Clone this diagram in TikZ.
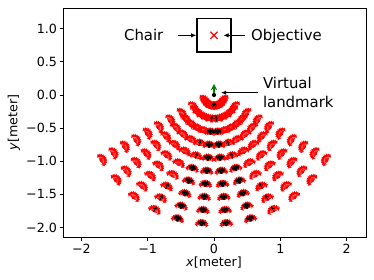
\documentclass[tikz,border=0pt]{standalone}
\usepackage{fontspec}
\setmainfont{DejaVu Sans}[ItalicFont={DejaVu Sans Oblique}]
\usetikzlibrary{arrows.meta,positioning}
\definecolor{quivgreen}{RGB}{0,128,0}

\begin{document}
\begin{tikzpicture}[x=1.6575cm,y=1.6575cm,
    axisfont/.style={font=\fontsize{9}{10.8}\selectfont},
    annot/.style={font=\fontsize{10.6}{13.75}\selectfont,inner sep=0pt},
    pointer/.style={line width=0.7pt,-{Latex[length=3.6pt,width=3.2pt]}},
    redquiv/.style={red,line width=0.45pt,-{Stealth[length=2.6pt,width=2.8pt]}},
    blackquiv/.style={black,line width=0.5pt,-{Stealth[length=2.6pt,width=2.6pt]}}]

    \useasboundingbox (-3.2278,-2.7903) rectangle (2.4133,1.4329);

    \newcommand{\FrameL}{-2.277}
    \newcommand{\FrameR}{2.293}
    \newcommand{\FrameB}{-2.142}
    \newcommand{\FrameT}{1.312}

    % red fans on the rings round the landmark
    \foreach \k in {0,...,9} {
      \foreach \j in {0,...,11} {
        \pgfmathsetmacro{\th}{-60+\j*120/11}
        \pgfmathsetmacro{\rr}{0.2+0.198*\k}
        \foreach \d in {-80,-64,...,80}
          \draw[redquiv] ({\rr*sin(\th)},{-\rr*cos(\th)}) -- ++(90+\th+\d:0.11);
      }
    }

    % black ones near the middle
    \foreach \k/\nc/\ns in {0/0/1,1/0/1,2/1/0,3/1/1,4/1/1,5/2/0,6/2/0,7/2/1,8/2/1,9/2/1} {
      \foreach \j in {0,...,11} {
        \pgfmathsetmacro{\th}{-60+\j*120/11}
        \pgfmathsetmacro{\rr}{0.2+0.198*\k}
        \pgfmathsetmacro{\mm}{abs(\j-5.5)}
        \pgfmathsetmacro{\outm}{\nc+\ns}
        \ifdim\mm pt<\nc pt
          \foreach \d in {-40,-20,...,40}
            \draw[blackquiv] ({\rr*sin(\th)},{-\rr*cos(\th)}) -- ++(90+\th+\d:0.09);
        \else\ifdim\mm pt<\outm pt
          \draw[blackquiv] ({\rr*sin(\th)},{-\rr*cos(\th)}) -- ++(90+\th:0.09);
        \fi\fi
      }
    }

    \draw[line width=0.7pt] (\FrameL,\FrameB) rectangle (\FrameR,\FrameT);
    \foreach \x/\lab [count=\i] in {-2/−2,-1/−1,0/0,1/1,2/2}
      \draw[line width=0.7pt] (\x,\FrameB) -- (\x,\FrameB-0.053)
        node[below,axisfont,inner sep=2.5pt] (xt\i) {\lab};
    \foreach \y/\lab [count=\i] in {1/1.0,0.5/0.5,0/0.0,-0.5/−0.5,-1/−1.0,-1.5/−1.5,-2/−2.0}
      \draw[line width=0.7pt] (\FrameL,\y) -- (\FrameL-0.053,\y)
        node[left,axisfont,inner sep=1.5pt] (yt\i) {\lab};
    \node[axisfont] (xlab) at (0,-2.534) {\textit{x}[meter]};
    \node[axisfont,rotate=90] (ylab) at (-3.02,-0.415) {\textit{y}[meter]};

    \node[draw,line width=1.2pt,minimum size=24.1pt,inner sep=0pt] (chairbox) at (0,0.9) {};
    \node[minimum size=4.7pt,inner sep=0pt] (objective) at (0,0.9) {};
    \draw[red,line width=0.9pt] (objective.north west) -- (objective.south east)
      (objective.north east) -- (objective.south west);
    \node[annot,anchor=base] (chair) at (-1.06,0.818) {Chair};
    \node[annot,anchor=base west] (objlab) at (0.555,0.818) {Objective};
    \draw[pointer,shorten <=10.4pt] (chair.east |- chairbox.west) -- (chairbox.west);
    \draw[pointer,shorten <=4.2pt,shorten >=4.2pt] (objlab.west |- objective.east) -- (objective.east);

    \node[circle,fill=black,minimum size=3pt,inner sep=0pt] (landmark) at (0,0) {};
    \coordinate (heading) at (0,0.166);
    \draw[quivgreen,line width=1pt,-{Stealth[length=4.5pt,width=4.5pt]}] (landmark.north) -- (heading);
    \node[annot,anchor=west,align=left] (lmlab) at (0.735,0.035) {Virtual\\landmark};
    \draw[pointer,shorten <=3.3pt,shorten >=3.3pt] (lmlab.west) -- (lmlab.west -| landmark.east);
\end{tikzpicture}
\end{document}
